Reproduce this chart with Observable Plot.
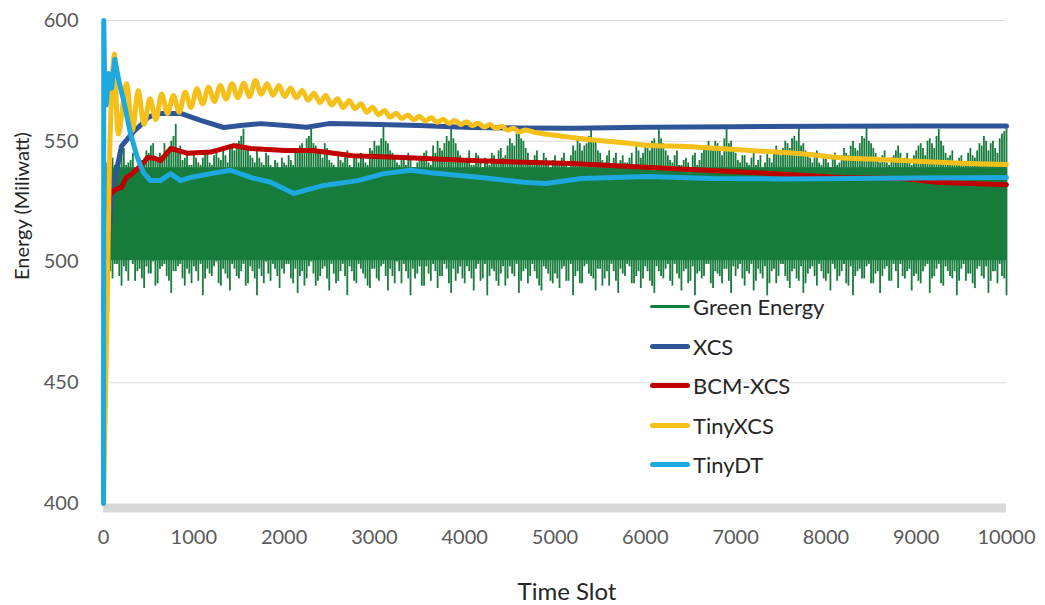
<!DOCTYPE html>
<html><head><meta charset="utf-8">
<script src="https://cdn.jsdelivr.net/npm/d3@7"></script>
<script src="https://cdn.jsdelivr.net/npm/@observablehq/plot@0.6"></script>
<style>
body{margin:0;background:#fff;}
#wrap{position:relative;width:1045px;height:605px;font-family:Lato,"Open Sans",sans-serif;background:#fff;}
#legend{position:absolute;left:650px;top:287px;}
.item{display:flex;align-items:center;height:39.5px;font-size:22px;color:#262626;white-space:nowrap;}
.swatch{width:40px;margin-right:3px;border-radius:3px;}
</style></head><body><div id="wrap"></div>
<script>
// ---- Series meta ----
const seriesNames = ["Green Energy", "XCS", "BCM-XCS", "TinyXCS", "TinyDT"];
const seriesColors = ["#177c3c", "#2e5597", "#c00000", "#f5c01a", "#1da9e0"];
const xTicks = [0,1000,2000,3000,4000,5000,6000,7000,8000,9000,10000];
const yTicks = [400,450,500,550,600];

// ---- Green Energy: per 50-slot bin extremes (bins at 0,50,100,...) ----
const greenStep = 50;
const greenHigh = [
 520,540,543,541,546,540,542,539,543,541,545,549,542,544,546,550,557,548,543,540,
 545,541,543,546,540,547,542,544,548,546,550,555,547,543,546,541,545,540,542,539,
 541,544,540,547,549,551,556,548,545,549,542,540,544,541,546,539,543,545,541,547,
 550,548,556,549,545,541,544,540,543,539,542,545,541,548,550,546,552,555,549,544,
 541,546,540,544,539,542,545,541,547,544,551,548,556,550,545,541,546,540,543,539,
 544,541,545,539,548,551,546,549,555,550,545,541,546,543,540,544,541,545,548,543,
 549,546,551,556,549,544,541,546,540,543,539,545,542,547,550,546,549,544,556,550,
 545,541,544,540,546,542,539,545,541,548,544,550,547,552,556,549,545,541,546,540,
 543,539,545,541,547,544,550,546,552,557,549,545,541,546,540,544,548,542,545,540,
 546,549,544,551,547,555,548,543,546,540,544,541,547,543,549,552,546,550,545,553,
 556];
const greenLow = [
 510,498,493,499,490,496,501,492,497,489,495,500,491,498,494,487,496,499,490,495,
 498,492,486,497,494,500,490,495,488,497,493,499,491,496,486,494,500,492,497,489,
 495,499,491,487,496,493,500,490,494,498,488,495,492,499,486,496,491,497,493,489,
 497,492,499,488,494,500,491,496,486,493,498,490,495,499,489,494,497,487,492,498,
 491,496,488,499,493,486,497,492,495,490,498,494,487,496,491,499,493,488,497,492,
 495,489,498,492,486,496,491,499,494,488,497,493,490,496,487,495,499,491,494,489,
 498,492,487,496,493,499,490,495,488,497,492,486,496,494,499,489,495,491,497,487,
 494,499,490,495,488,497,493,486,496,491,499,494,489,497,492,487,495,498,490,496,
 492,488,497,494,499,490,486,496,493,498,491,495,487,497,492,499,489,494,496,488,
 495,491,498,487,494,499,490,496,493,486,497,492,495,489,498,493,487,496,491,494,
 486];
// ---- Green Energy: offset bins (25,75,125,...) ----
const greenOffset = 25;
const greenHigh2 = [
 541,544,540,543,547,541,545,539,542,546,548,543,545,549,547,552,546,542,544,540,
 543,540,545,541,544,543,546,541,547,549,552,548,544,541,543,540,544,539,541,543,
 540,542,545,548,547,552,549,546,543,547,541,539,542,545,540,543,541,544,540,546,
 548,551,550,546,543,540,542,545,539,541,543,546,540,545,547,549,550,551,546,542,
 543,540,545,541,543,540,544,546,543,548,549,553,551,547,542,544,540,545,541,542,
 540,543,541,544,546,549,548,552,550,546,542,544,540,545,542,541,543,539,546,545,
 547,550,549,551,546,542,544,540,542,541,544,540,545,548,547,550,546,551,549,546,
 542,544,541,543,540,544,541,543,545,546,547,549,551,550,548,546,543,544,541,543,
 541,543,540,544,545,548,547,549,551,550,547,543,544,541,543,546,545,543,541,544,
 548,547,550,549,552,550,545,544,541,543,540,545,544,546,548,550,549,547,551,554];
const greenLow2 = [
 500,496,499,494,498,492,499,496,493,498,495,490,497,499,492,496,498,493,497,491,
 496,499,493,495,498,491,497,493,499,494,496,490,498,493,497,491,495,499,494,497,
 499,493,497,494,490,498,495,492,497,493,499,491,496,494,498,492,499,495,490,497,
 493,498,494,497,491,496,499,493,497,495,490,498,492,496,494,499,491,497,495,493,
 498,493,497,492,499,494,496,490,498,493,495,499,492,497,494,496,490,498,495,491,
 493,497,492,499,494,491,498,495,493,497,490,496,499,492,497,494,498,491,496,493,
 496,490,498,494,497,492,499,493,496,491,498,495,493,499,491,496,494,497,492,498,
 497,493,496,499,492,495,498,491,497,494,499,492,496,493,498,491,497,494,499,493,
 495,499,492,496,491,498,494,497,493,499,491,496,494,498,492,496,499,493,497,494,
 492,496,499,493,497,491,498,494,496,492,499,495,491,497,494,498,492,496,499,493];
const greenCoreT = [40, 10000];
const greenCoreLow = [500.5, 500.5];
const greenCoreHigh = [539, 539];

// ---- XCS ----
const xcsT = [0,40,100,200,333,420,500,600,854,1076,1331,1520,1741,2018,2250,2495,2940,3493,4070,4600,5200,6000,7000,8000,9000,10000];
const xcsV = [420,500,530,548,554,557,560,561.5,561.5,558.6,555.7,556.5,557.3,556.5,555.8,557.3,557,556.5,555.7,555.5,555.4,555.8,556,556.2,556.3,556.3];

// ---- BCM-XCS ----
const bcmT = [0,30,70,133,200,250,300,355,420,488,560,632,700,743,840,930,1187,1442,1630,2018,2318,2760,3316,4070,5180,6122,7230,8174,8860,9227,10000];
const bcmV = [480,515,528,530,531,535,536,538,540,543.3,543,542,545,547,546,545,545.5,548.2,547,546.2,546.2,544,543.3,542,540.8,539,537,535,534.6,533,532];

// ---- TinyXCS ----
const tinyXcsT = [0,40,80,122,166,255,320,385,450,515,580,644,709,774,839,904,969,1034,1098,1163,1228,1293,1358,1423,1488,1553,1617,1682,1747,1812,1877,1942,2007,2072,2136,2201,2266,2331,2396,2461,2526,2591,2655,2720,2785,2850,2915,2980,3045,3110,3175,3240,3305,3370,3435,3500,3565,3630,3695,3760,3825,3890,3955,4020,4085,4150,4215,4280,4345,4410,4475,4540,4605,4670,4800,5000,5180,5400,5733,6066,6400,6676,7000,7230,7500,7785,8150,8500,8860,9200,9593,10000];
const tinyXcsV = [400,480,560,586,553,573.8,554.5,571,557,567.6,559,569.6,561.5,568.9,562,570.3,564,571.7,565.5,572.4,566.5,573.1,567.5,573.8,568,574,568.5,575.2,569.5,573.8,569,573.1,568.5,572.1,568,571,567,569.9,566,568.9,565,567.6,564,566.9,563.5,565.5,562,564.1,561,562.7,560,561.6,559.4,560.9,558.9,560.3,558.4,559.7,557.9,559.1,557.4,558.6,556.9,558.1,556.5,557.5,555.9,556.9,555.3,556.2,554.6,555.4,553.9,554.7,553.5,552.5,551.6,550.6,549.5,548.2,547.9,547.3,546.6,546,545.4,544.6,543.2,542.6,542,541.4,540.8,540.4];

// ---- TinyDT ----
const tinyDtT = [0,3,12,30,60,90,125,170,222,300,377,443,520,630,743,854,965,1187,1408,1630,1852,2107,2440,2817,3105,3405,3626,4181,4650,4900,5290,6033,6730,7500,8300,9000,10000];
const tinyDtV = [400,600,575,565,578,572,584,575,567,553,543,537,533.7,533.7,536.6,533.7,535,536.6,538,535,533,528.4,531.7,533.7,536.6,538,537,535,533,532.5,534.6,535.4,534.6,534.4,534.6,534.8,535];

// ---- build tables ----
const rows = (T, V) => T.map((t, i) => ({t, v: V[i]}));
const green = [
  ...greenHigh.map((h, i) => ({t: i * greenStep, hi: h, lo: greenLow[i]})),
  ...greenHigh2.map((h, i) => ({t: greenOffset + i * greenStep, hi: h, lo: greenLow2[i]}))
];
const greenCore = greenCoreT.map((t, i) => ({t, lo: greenCoreLow[i], hi: greenCoreHigh[i]}));
const lineSeries = [
  {data: rows(xcsT, xcsV), color: seriesColors[1], curve: "linear"},
  {data: rows(bcmT, bcmV), color: seriesColors[2], curve: "linear"},
  {data: rows(tinyXcsT, tinyXcsV), color: seriesColors[3], curve: "catmull-rom"},
  {data: rows(tinyDtT, tinyDtV), color: seriesColors[4], curve: "linear"}
];

const chart = Plot.plot({
  width: 1045, height: 605,
  marginLeft: 103, marginRight: 39, marginTop: 20, marginBottom: 102,
  style: {fontFamily: "Lato, 'Open Sans', sans-serif", fontSize: "20px", color: "#595959", background: "#fff"},
  x: {domain: [0, 10000], ticks: xTicks, tickSize: 0, tickPadding: 26, label: null, tickFormat: d => String(d)},
  y: {domain: [400, 600], ticks: yTicks, tickSize: 0, tickPadding: 25, label: null},
  marks: [
    Plot.ruleY(yTicks.slice(1), {stroke: "#d9d9d9", strokeWidth: 1}),
    Plot.ruleY([400], {stroke: "#d9d9d9", strokeWidth: 9, dy: 4.5}),
    Plot.areaY(greenCore, {x: "t", y1: "lo", y2: "hi", fill: seriesColors[0]}),
    Plot.ruleX(green, {x: "t", y1: "lo", y2: "hi", stroke: seriesColors[0], strokeWidth: 1.8}),
    ...lineSeries.map(s => Plot.line(s.data, {x: "t", y: "v", stroke: s.color, strokeWidth: 5, strokeLinejoin: "round", curve: s.curve})),
    Plot.text(["Energy (Miliwatt)"], {frameAnchor: "left", rotate: -90, dx: -81, dy: 18, fontSize: 20, fill: "#262626"}),
    Plot.text(["Time Slot"], {frameAnchor: "bottom", dy: 96, dx: 12, fontSize: 24, fill: "#262626"})
  ]
});
const wrap = document.getElementById("wrap");
wrap.appendChild(chart);

// legend
const legend = document.createElement("div");
legend.id = "legend";
seriesNames.forEach((name, i) => {
  const item = document.createElement("div");
  item.className = "item";
  const sw = document.createElement("span");
  sw.className = "swatch";
  sw.style.background = seriesColors[i];
  sw.style.height = (i === 0 ? 3 : 5) + "px";
  const label = document.createElement("span");
  label.textContent = name;
  item.appendChild(sw); item.appendChild(label);
  legend.appendChild(item);
});
wrap.appendChild(legend);
</script></body></html>
